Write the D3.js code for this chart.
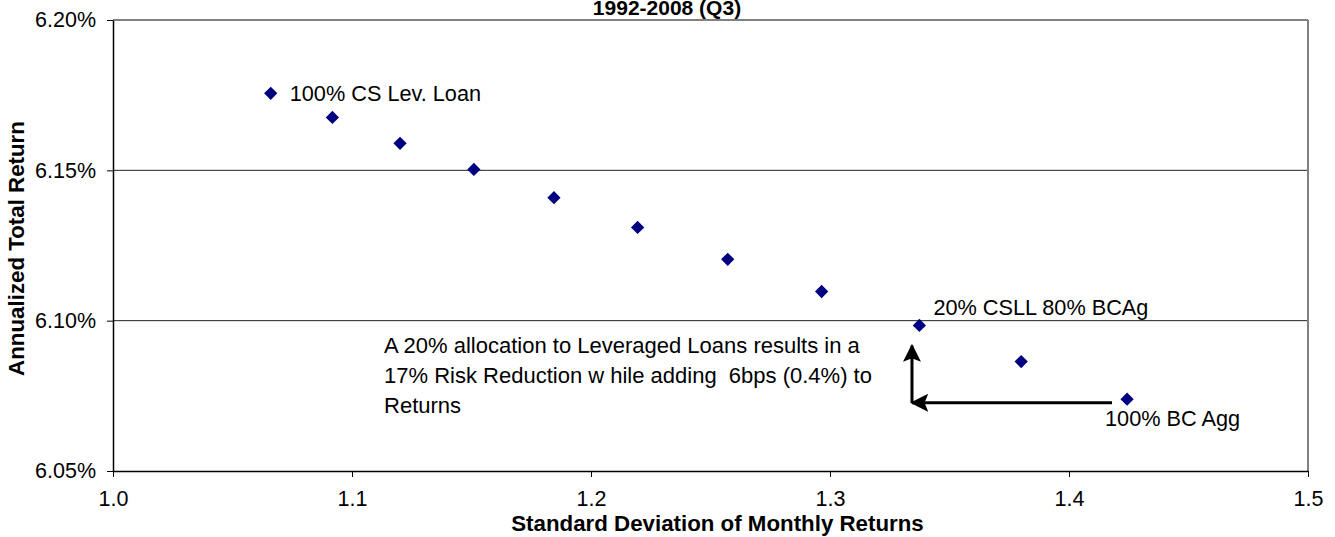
<!DOCTYPE html>
<html>
<head>
<meta charset="utf-8">
<script src="https://d3js.org/d3.v7.min.js"></script>
<style>
  body { margin: 0; background: #fff; }
  text { font-family: "Liberation Sans", Arial, sans-serif; }
</style>
</head>
<body>
<svg width="1335" height="537"></svg>
<script>
  // data
  var stdDev = [1.0660, 1.0918, 1.1201, 1.1510, 1.1845, 1.2195, 1.2572, 1.2965, 1.3374, 1.3800, 1.4243];
  var annReturn = [6.1756, 6.1676, 6.1590, 6.1503, 6.1409, 6.1310, 6.1204, 6.1097, 6.0984, 6.0864, 6.0739];
  var xTicks = [1.0, 1.1, 1.2, 1.3, 1.4, 1.5];
  var yTicks = [6.05, 6.10, 6.15, 6.20];
  var pointLabels = [
    {i: 0, text: "100% CS Lev. Loan", dx: 19, dy: 8},
    {i: 8, text: "20% CSLL 80% BCAg", dx: 14, dy: -10},
    {i: 10, text: "100% BC Agg", dx: -22, dy: 27}
  ];
  var noteLines = ["A 20% allocation to Leveraged Loans results in a",
                   "17% Risk Reduction w hile adding  6bps (0.4%) to",
                   "Returns"];
  var noteAt = {x: 1.1134, y: 6.0893};
  // arrows: from 100% BC Agg back to the 20% mix, then up
  var arrowH = {x1: 1.418, x2: 1.3343, y: 6.0727};
  var arrowV = {x: 1.3343, y1: 6.0727, y2: 6.0917};

  var svg = d3.select("svg");
  var mLeft = 113, mRight = 1308, mTop = 20, mBottom = 471;

  var xscale = d3.scaleLinear().domain([1.0, 1.5]).range([mLeft, mRight]);
  var yscale = d3.scaleLinear().domain([6.05, 6.20]).range([mBottom, mTop]);

  // title (clipped at top in the original)
  svg.append("text")
    .attr("x", 667).attr("y", 15)
    .attr("text-anchor", "middle")
    .attr("font-size", 21).attr("font-weight", "bold")
    .text("1992-2008 (Q3)");

  // grid lines
  svg.append("g").selectAll("line")
    .data(yTicks.slice(1, 3)).enter().append("line")
    .attr("x1", mLeft).attr("x2", mRight)
    .attr("y1", function(d){ return yscale(d); })
    .attr("y2", function(d){ return yscale(d); })
    .attr("stroke", "#222").attr("stroke-width", 1);

  // top and right border
  svg.append("line")
    .attr("x1", mLeft).attr("x2", mRight)
    .attr("y1", yscale(6.20)).attr("y2", yscale(6.20))
    .attr("stroke", "#808080").attr("stroke-width", 2);
  svg.append("line")
    .attr("x1", xscale(1.5)).attr("x2", xscale(1.5))
    .attr("y1", mTop).attr("y2", mBottom)
    .attr("stroke", "#808080").attr("stroke-width", 2);

  // axes
  var xAxis = svg.append("g")
    .attr("transform", "translate(0," + mBottom + ")")
    .call(d3.axisBottom(xscale).tickValues(xTicks).tickSize(6).tickSizeOuter(0)
      .tickFormat(d3.format(".1f")));
  var yAxis = svg.append("g")
    .attr("transform", "translate(" + mLeft + ",0)")
    .call(d3.axisLeft(yscale).tickValues(yTicks).tickSize(6).tickSizeOuter(0)
      .tickFormat(function(d){ return d.toFixed(2) + "%"; }));
  [xAxis, yAxis].forEach(function(a){
    a.select(".domain").attr("stroke", "#000").attr("stroke-width", 1.5);
    a.selectAll(".tick line").attr("stroke", "#000");
    a.selectAll(".tick text").attr("font-size", 21.5).attr("fill", "#000")
      .attr("font-family", "'Liberation Sans', Arial, sans-serif");
  });
  xAxis.selectAll(".tick text").attr("dy", "1.2em");
  yAxis.selectAll(".tick text").attr("x", -17);

  // axis titles
  svg.append("text")
    .attr("x", (mLeft + mRight) / 2 + 7).attr("y", 531)
    .attr("text-anchor", "middle")
    .attr("font-size", 22.3).attr("font-weight", "bold")
    .text("Standard Deviation of Monthly Returns");
  svg.append("text")
    .attr("transform", "translate(24," + ((mTop + mBottom) / 2 + 3) + ") rotate(-90)")
    .attr("text-anchor", "middle")
    .attr("font-size", 22.3).attr("font-weight", "bold")
    .text("Annualized Total Return");

  // points
  var diamond = d3.symbol().type(d3.symbolSquare).size(88);
  svg.append("g").selectAll("path")
    .data(stdDev).enter().append("path")
    .attr("d", diamond)
    .attr("transform", function(d, i){
      return "translate(" + xscale(d) + "," + yscale(annReturn[i]) + ") rotate(45)";
    })
    .attr("fill", "#000080");

  // point labels
  svg.append("g").selectAll("text")
    .data(pointLabels).enter().append("text")
    .attr("x", function(d){ return xscale(stdDev[d.i]) + d.dx; })
    .attr("y", function(d){ return yscale(annReturn[d.i]) + d.dy; })
    .attr("font-size", 21.7)
    .text(function(d){ return d.text; });

  // note
  svg.append("g").selectAll("text")
    .data(noteLines).enter().append("text")
    .attr("x", xscale(noteAt.x))
    .attr("y", function(d, i){ return yscale(noteAt.y) + i * 30; })
    .attr("font-size", 22)
    .attr("xml:space", "preserve")
    .style("white-space", "pre")
    .text(function(d){ return d; });

  // arrows
  var defs = svg.append("defs");
  defs.append("marker")
    .attr("id", "head")
    .attr("viewBox", "0 0 10 10")
    .attr("refX", 9).attr("refY", 5)
    .attr("markerWidth", 6).attr("markerHeight", 6)
    .attr("markerUnits", "strokeWidth")
    .attr("orient", "auto")
    .append("path").attr("d", "M0,0 L10,5 L0,10 L2,5 z").attr("fill", "#000");

  svg.append("line")
    .attr("x1", xscale(arrowH.x1)).attr("x2", xscale(arrowH.x2))
    .attr("y1", yscale(arrowH.y)).attr("y2", yscale(arrowH.y))
    .attr("stroke", "#000").attr("stroke-width", 3)
    .attr("marker-end", "url(#head)");
  svg.append("line")
    .attr("x1", xscale(arrowV.x)).attr("x2", xscale(arrowV.x))
    .attr("y1", yscale(arrowV.y1)).attr("y2", yscale(arrowV.y2))
    .attr("stroke", "#000").attr("stroke-width", 3)
    .attr("marker-end", "url(#head)");
</script>
</body>
</html>
